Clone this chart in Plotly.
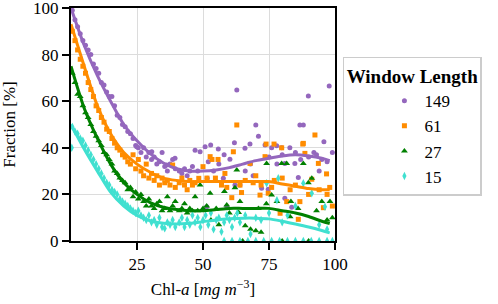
import plotly.graph_objects as go

# ---------------- data ----------------
low_x = [0.5, 1.5, 2.5, 3.5, 4.5, 5.5, 6.5, 7.5, 8.5, 9.5, 10.5, 11.5, 12.5, 13.5, 14.5,
         15.5, 16.5, 17.5, 18.5, 19.5, 20.5, 21.5, 22.5, 23.5, 24.5, 25.5, 26.5, 27.5,
         28.5, 29.5, 30.5, 31.5, 32.5, 33.5, 34.5, 35.5, 36.5, 37.5, 38.5, 39.5]

p149_low_y = [99, 95, 92, 89, 86, 84, 82, 80, 76, 74, 72, 68, 67, 64, 62, 62, 58, 54, 53, 50,
              49, 47, 46, 44, 41, 40, 38, 40, 36, 38, 35, 36, 33, 34, 38, 32, 30, 33, 35, 31]
p149_hi_x = [24.9, 30.6, 36.2, 39.4, 41, 42, 43, 44, 45, 46, 47, 48.9, 48, 50.8, 52.9, 55.8,
             51.6, 57.7, 60.2, 61.9, 62.8, 62.1, 64, 65.9, 67.8, 70, 71, 73.5, 72.2, 59, 51.4,
             76, 77.9, 79.8, 82.9, 81, 84.8, 86.1, 74.7, 81, 83.6, 86.7, 88, 89.9, 95.8, 97.8,
             93, 95, 97, 52, 54, 56, 58, 66, 68, 69, 75, 78, 80, 85, 87, 90, 92, 94, 99]
p149_hi_y = [40.5, 38.3, 32.6, 35.5, 30, 29, 31, 28, 30, 32, 39, 38.3, 30, 40.5, 41.2, 39.5,
             26.9, 26.9, 35.1, 42.2, 64.8, 24, 24, 39.8, 41.6, 49.8, 45, 41.2, 22.6, 14.7, 14.7,
             40, 40.9, 40, 40, 33.3, 33.3, 27.3, 22.2, 18.4, 14.5, 49.8, 49.8, 62.2, 42.6, 66.5,
             37, 35, 34, 34, 30, 33, 37, 30, 33, 28, 36, 33, 37, 38, 35, 36, 38, 30, 38]

p61_low_y = [90, 86, 82, 78, 75, 72, 68, 65, 62, 58, 56, 53, 51, 48, 47, 44, 42, 40, 39, 37,
             36, 34, 33, 37, 31, 35, 30, 28, 33, 27, 29, 26, 28, 24, 27, 25, 26, 24, 32.6, 23]
p61_hi_x = [41, 42, 43, 44, 45, 46, 47, 48.4, 50, 51.5, 52.7, 53.4, 55.7, 54.7, 58.3, 61.5,
            62.8, 64, 60.9, 64.6, 67.8, 71.6, 73.5, 73.9, 76.9, 79.8, 87.8, 92.4, 88, 88.6,
            93.7, 96.8, 91.2, 77, 74.7, 81.7, 86.7, 95.6, 79.2, 86.1, 57, 59, 66, 69, 70, 72,
            76, 80, 83, 85, 90, 94, 97, 99, 98]
p61_hi_y = [25, 27, 24, 22, 26, 24, 25, 26.9, 31.9, 27, 36.2, 35, 35, 27, 29, 38.3,
            49.8, 24, 18.6, 20.8, 33.3, 19.7, 36.2, 41.6, 41.6, 40, 41.6, 45.5, 41.9, 37.6,
            33.3, 28.8, 26.5, 26, 20.5, 16.9, 16.9, 14.3, 11.9, 9.3, 24, 23, 26, 25, 28, 24,
            23, 27, 22, 24, 20, 22, 20, 15, 23]

p27_low_y = [72, 68, 63, 62, 58, 55, 53, 50, 47, 45, 43, 41, 38, 37, 35, 33, 30, 29, 27, 26,
             25, 22, 23, 19, 21, 18, 20, 17, 15, 18, 15, 14, 16, 17, 13, 14, 19, 13, 15, 17]
p27_hi_x = [41, 42, 43, 44, 45, 46, 47, 48, 48.9, 50, 51.4, 52.7, 53, 55, 56, 58.1, 59, 60,
            62.1, 62.8, 63.5, 64, 66, 68, 70, 71, 72, 74.1, 74, 76, 78, 79.8, 81.7, 83, 83.3,
            86, 88, 89.9, 91.2, 93, 95, 98.1, 99, 97, 65, 80, 90]
p27_hi_y = [13, 14, 16, 12, 14, 13, 19, 13, 24, 14, 15, 20.5, 9, 14, 7, 21.2, 15.5, 12,
            22.9, 30.5, 12.2, 17, 6.5, 5, 4.4, 14, 3.8, 33.3, 16, 19.7, 17, 33.3, 33.3, 10.4, 16.9,
            14, 33.3, 25, 26.9, 13, 17, 16.9, 10, 9, 0, 0, 0]

p15_low_y = [49, 47, 46, 44, 43, 41, 39, 37, 35, 33, 31, 29, 27, 25, 24, 22, 21, 20, 18, 17,
             16, 15, 14, 13, 12, 13, 11, 10, 9, 11, 8, 9, 7, 10, 6, 5.4, 8, 7, 9, 6]
p15_hi_x = [0.3, 41, 42, 43, 44, 45, 46, 47, 48, 49, 50, 51, 52, 53, 54, 55, 56, 57, 58, 59, 60,
            61, 62, 63, 64, 66, 68, 70, 72, 74.1, 75, 78, 78.5, 80, 82, 85, 88, 91.2, 96.2,
            94, 97, 58, 61, 64, 67, 70, 73, 76, 79, 82, 85, 88, 91, 94, 97, 99]
p15_hi_y = [40, 8, 10, 6, 9, 7, 11, 8, 10, 6, 9, 11, 7, 12, 5, 9, 10, 4, 8, 11, 9,
            6, 10, 12, 8, 11, 3, 10, 9, 24.8, 12, 17.5, 26.9, 8, 11, 15, 24.8, 20.5, 14.7,
            7, 5, 0, 0, 0, 0, 0, 0, 0, 0, 0, 0, 0, 0, 0, 0, 0]

fit_x = [0, 5, 10, 15, 20, 25, 30, 35, 40, 45, 50, 55, 60, 65, 70, 75, 80, 85, 90, 95, 98]
fit149 = [100, 84, 71, 60, 50, 43, 37.5, 33.5, 31, 30, 30, 30.5, 31.5, 33, 34.5, 35.5, 36.5, 37, 36.5, 35.5, 34.5]
fit61 = [93, 75, 58, 46, 38, 33, 29.5, 27, 26, 25.5, 25.5, 25.5, 25.5, 25.5, 25.5, 25.5, 24.5, 23.5, 22.5, 22, 22]
fit27 = [75, 57, 44, 33, 25, 20, 16.5, 14.5, 13.5, 13, 13, 13.5, 14, 14, 14, 14, 13, 12, 10.5, 8.5, 7.5]
fit15 = [50, 39.5, 30, 21, 15, 11, 8.7, 7.6, 7.3, 7.6, 8.3, 9, 9.5, 9.8, 9.8, 9.5, 8.5, 7.3, 6, 4.5, 3.5]

series_names = ["149", "61", "27", "15"]
colors = ["#9467bd", "#ff8c00", "#008000", "#40e0d0"]
symbols = ["circle", "square", "triangle-up", "diamond-tall"]
sizes = [5, 5, 6, 6]

scatter_x = [low_x + p149_hi_x, low_x + p61_hi_x, low_x + p27_hi_x, low_x + p15_hi_x]
scatter_y = [p149_low_y + p149_hi_y, p61_low_y + p61_hi_y, p27_low_y + p27_hi_y, p15_low_y + p15_hi_y]
fits = [fit149, fit61, fit27, fit15]

FONT = "Liberation Serif"

fig = go.Figure()
for i in range(4):
    fig.add_trace(go.Scatter(
        x=scatter_x[i], y=scatter_y[i], mode="markers", name=series_names[i],
        marker=dict(color=colors[i], symbol=symbols[i], size=sizes[i], line=dict(width=0)),
        legendgroup=series_names[i]))
for i in range(4):
    fig.add_trace(go.Scatter(
        x=fit_x, y=fits[i], mode="lines",
        line=dict(color=colors[i], width=3, shape="spline", smoothing=0.8),
        showlegend=False, legendgroup=series_names[i]))

axis_common = dict(
    showline=True, linecolor="black", linewidth=2, mirror=True,
    ticks="outside", ticklen=7, tickwidth=1.5, tickcolor="black",
    showgrid=True, gridcolor="#dcdcdc", gridwidth=1, zeroline=False,
    tickfont=dict(family=FONT, size=17, color="black"),
    automargin=False, ticklabeloverflow="allow",
)

fig.update_layout(
    width=498, height=304,
    margin=dict(l=71, r=163, t=8, b=63),
    paper_bgcolor="white", plot_bgcolor="white",
    font=dict(family=FONT, color="black"),
    xaxis=dict(range=[0, 100], tickvals=[25, 50, 75, 100],
               title=dict(text="Chl-<i>a</i> [<i>mg m</i><sup>−3</sup>]",
                          font=dict(family=FONT, size=17), standoff=10),
               **axis_common),
    yaxis=dict(range=[0, 100], tickvals=[0, 20, 40, 60, 80, 100],
               title=dict(text="Fraction [%]", font=dict(family=FONT, size=17), standoff=17),
               **axis_common),
    legend=dict(
        x=1.03, y=0.79, xanchor="left", yanchor="top",
        bordercolor="#cccccc", borderwidth=1.5, bgcolor="white",
        font=dict(family=FONT, size=17),
        title=dict(text="<b>Window Length</b>", side="top center",
                   font=dict(family=FONT, size=19)),
        itemsizing="trace",
        indentation=40,
        tracegroupgap=0,
    ),
)

fig.write_html("out.html", config={"displayModeBar": False},
               post_script="document.body.style.margin='0px';")
